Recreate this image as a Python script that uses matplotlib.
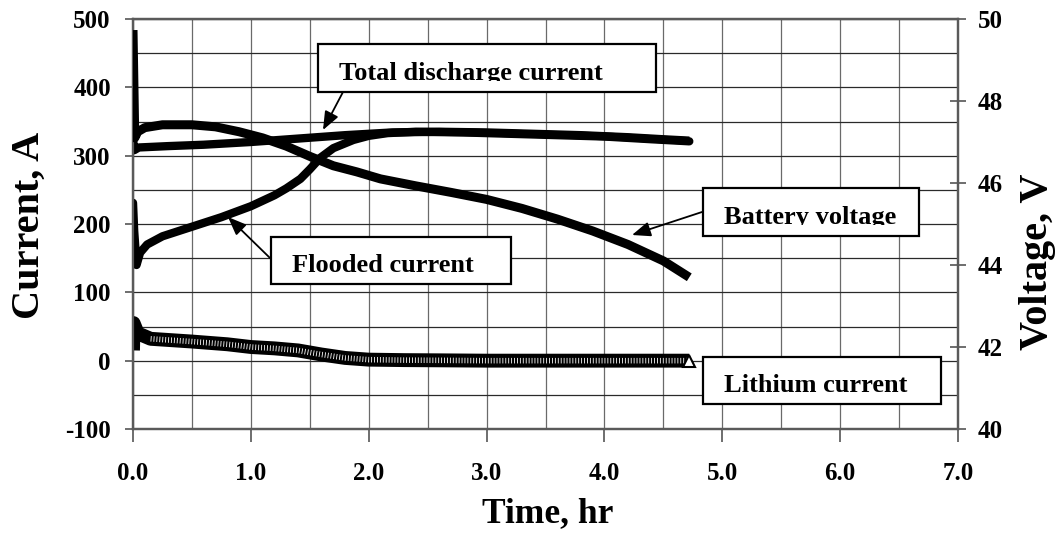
import matplotlib
matplotlib.use("Agg")
import matplotlib.pyplot as plt
from matplotlib.patches import Rectangle, FancyArrowPatch
from matplotlib.transforms import Bbox, TransformedBbox
from matplotlib.ticker import MultipleLocator

# ---------------- data ----------------
# Battery voltage (V) vs time (hr)
volt_time = [0.0, 0.015, 0.04, 0.1, 0.25, 0.5, 0.7, 0.9, 1.1, 1.3, 1.5, 1.7, 1.9, 2.1,
             2.4, 2.7, 3.0, 3.3, 3.6, 3.9, 4.2, 4.5, 4.72]
battery_voltage = [49.73, 47.1, 47.25, 47.35, 47.42, 47.42, 47.37, 47.25, 47.1, 46.9, 46.65,
                   46.42, 46.27, 46.1, 45.93, 45.77, 45.6, 45.38, 45.12, 44.83, 44.5, 44.1, 43.7]

# Total discharge current (A)
total_time = [0.0, 0.01, 0.05, 0.3, 0.6, 1.0, 1.4, 1.8, 2.2, 2.6, 3.0, 3.4, 3.8, 4.2, 4.5, 4.72]
total_current = [325, 308, 312, 314, 316, 320, 325, 330, 334, 335, 334, 332, 330, 327, 324, 322]

# Flooded battery current (A)
flooded_time = [0.0, 0.01, 0.03, 0.06, 0.12, 0.25, 0.5, 0.75, 1.0, 1.1, 1.2, 1.3, 1.42, 1.5,
                1.59, 1.7, 1.87, 2.0, 2.16, 2.4, 2.8, 3.2, 3.6, 4.0, 4.4, 4.72]
flooded_current = [231, 190, 140, 158, 170, 182, 196, 210, 226, 234, 242, 252, 266, 280,
                   297, 311, 323, 329, 333, 335, 334, 332, 330, 328, 324, 321]

# Lithium battery current (A)
lithium_time = [0.0, 0.005, 0.04, 0.15, 0.5, 0.8, 1.0, 1.2, 1.4, 1.6, 1.8, 2.0, 2.3, 2.6,
                3.0, 3.5, 4.0, 4.5, 4.72]
lithium_current = [15, 55, 40, 32, 28, 24, 20, 18, 15, 9, 4, 1.5, 0.8, 0.5,
                   0, 0, 0, 0, 0]

x_ticks = [0, 1, 2, 3, 4, 5, 6, 7]
x_tick_labels = ["0.0", "1.0", "2.0", "3.0", "4.0", "5.0", "6.0", "7.0"]
current_ticks = [-100, 0, 100, 200, 300, 400, 500]
voltage_ticks = [40, 42, 44, 46, 48, 50]

# ---------------- style ----------------
plt.rcParams["font.family"] = ["Liberation Serif", "DejaVu Serif"]
plt.rcParams["font.weight"] = "bold"
plt.rcParams["lines.scale_dashes"] = False
plt.rcParams["axes.unicode_minus"] = False

W, H = 1062, 542
fig = plt.figure(figsize=(W / 100, H / 100), dpi=100)


def fx(x):
    return x / W


def fy(y):
    return 1 - y / H


L, R, T, B = 133, 958, 19, 429
ax = fig.add_axes([fx(L), fy(B), fx(R) - fx(L), fy(T) - fy(B)])
ax2 = ax.twinx()

ax.set_xlim(0, 7)
ax.set_ylim(-100, 500)
ax2.set_ylim(40, 50)

ax.set_xticks(x_ticks)
ax.set_xticklabels(x_tick_labels)
ax.xaxis.set_minor_locator(MultipleLocator(0.5))
ax.set_yticks(current_ticks)
ax.yaxis.set_minor_locator(MultipleLocator(50))
ax2.set_yticks(voltage_ticks)

ax.grid(which="both", axis="x", color="#6a6a6a", lw=0.9)
ax.grid(which="both", axis="y", color="#2a2a2a", lw=0.9)
ax.set_axisbelow(True)

tick_font = 18
ax.tick_params(axis="x", which="major", direction="out", length=9, width=1.2,
               color="#555555", labelsize=tick_font, pad=15)
ax.tick_params(axis="y", which="major", direction="out", length=6, width=1.2,
               color="#555555", labelsize=tick_font, pad=10)
ax.tick_params(which="minor", length=0)
ax2.tick_params(axis="y", which="major", direction="inout", length=12, width=1.2,
                color="#555555", labelsize=tick_font, pad=8)

for a in (ax, ax2):
    for s in a.spines.values():
        s.set_color("#5a5a5a")
        s.set_linewidth(1.6)
    for lab in a.get_xticklabels() + a.get_yticklabels():
        lab.set_fontweight("bold")

# ---------------- series ----------------
ax.plot(total_time, total_current, color="black", lw=6, solid_joinstyle="round",
        solid_capstyle="butt", zorder=3)
ax.plot(flooded_time, flooded_current, color="black", lw=6, solid_joinstyle="round",
        solid_capstyle="round", zorder=3)
# lithium: heavy black band with white hatching, open triangle at the last point
ax.plot(lithium_time, lithium_current, color="black", lw=10, solid_joinstyle="round",
        solid_capstyle="butt", zorder=3)
ax.plot(lithium_time[3:], lithium_current[3:], color="white", lw=4.0,
        linestyle=(0, (0.6, 1.5)), zorder=4)
ax.plot(lithium_time[-1:], lithium_current[-1:], marker="^", ms=8, mfc="white",
        mec="black", mew=1.5, ls="none", zorder=5)
ax2.plot(volt_time, battery_voltage, color="black", lw=6.5, solid_joinstyle="round",
         solid_capstyle="butt", zorder=3)

# ---------------- axis titles ----------------
fig.text(fx(548), fy(522), "Time, hr", ha="center", va="baseline", fontsize=25.5,
         fontweight="bold")
fig.text(fx(29), fy(225), "Current, A", ha="center", va="center", rotation=90,
         fontsize=29, fontweight="bold")
fig.text(fx(1037), fy(262), "Voltage, V", ha="center", va="center", rotation=90,
         fontsize=29, fontweight="bold")

# ---------------- callout boxes ----------------
boxes = [
    (318, 44, 656, 92, "Total discharge current"),
    (271, 237, 511, 284, "Flooded current"),
    (703, 188, 919, 236, "Battery voltage"),
    (703, 357, 941, 404, "Lithium current"),
]
for x0, y0, x1, y1, label in boxes:
    rect = Rectangle((fx(x0), fy(y1)), fx(x1) - fx(x0), fy(y0) - fy(y1),
                     transform=fig.transFigure, facecolor="white", edgecolor="black",
                     lw=1.6, zorder=10)
    fig.add_artist(rect)
    txt = fig.text(fx(x0 + 21), fy(y1 - 12), label, ha="left", va="baseline",
                   fontsize=19, fontweight="bold", zorder=11)
    clip = TransformedBbox(Bbox([[fx(x0), fy(y1 - 11)], [fx(x1), fy(y0)]]),
                           fig.transFigure)
    txt.set_clip_box(clip)
    txt.set_clip_on(True)

arrows = [
    ((343, 92), (323, 130)),
    ((270, 258), (228, 217)),
    ((702, 212), (632, 235)),
]
for (xa, ya), (xb, yb) in arrows:
    arr = FancyArrowPatch((fx(xa), fy(ya)), (fx(xb), fy(yb)), transform=fig.transFigure,
                          arrowstyle="-|>,head_length=0.8,head_width=0.32",
                          mutation_scale=14, lw=1.3, color="black",
                          shrinkA=0, shrinkB=0, zorder=9)
    fig.add_artist(arr)

fig.savefig("out.png", dpi=100, facecolor="white")
